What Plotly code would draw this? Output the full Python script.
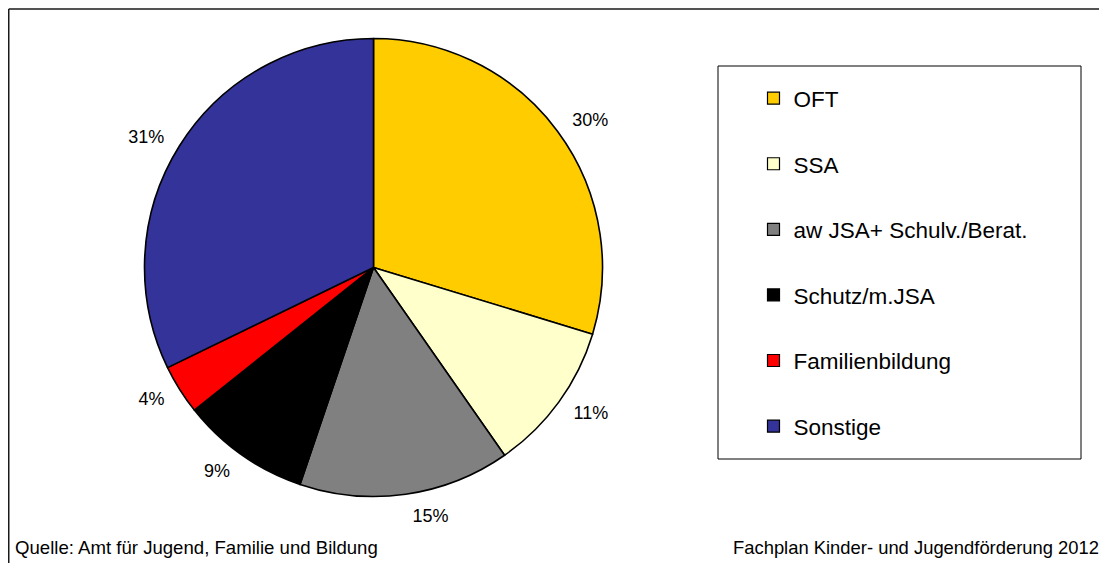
import plotly.graph_objects as go

# ---- data ----
categories = ["OFT", "SSA", "aw JSA+ Schulv./Berat.", "Schutz/m.JSA", "Familienbildung", "Sonstige"]
shares = [29.7, 10.6, 14.9, 9.1, 3.5, 32.2]
pct_labels = ["30%", "11%", "15%", "9%", "4%", "31%"]
colors = ["#FFCC00", "#FFFFCC", "#808080", "#000000", "#FF0000", "#333399"]
source_text = "Quelle: Amt für Jugend, Familie und Bildung"
doc_text = "Fachplan Kinder- und Jugendförderung 2012"

# page offset (default body margin of the html page)
OFF = 8
W, H = 1107 - OFF, 563 - OFF
FONT = "Liberation Sans, Arial, Helvetica, sans-serif"

X = lambda p: (p - OFF) / W          # page px -> paper x
Y = lambda p: 1 - (p - OFF) / H      # page px -> paper y

fig = go.Figure()

# pie geometry (page px)
cx, cy, r = 373.5, 267.5, 229
lab_r = r + 12


def dom(rad):
    return dict(x=[X(cx - rad), X(cx + rad)], y=[Y(cy + rad), Y(cy - rad)])


# main pie (slices)
fig.add_trace(go.Pie(
    labels=categories,
    values=shares,
    textinfo="none",
    marker=dict(colors=colors, line=dict(color="#000000", width=1.6)),
    sort=False,
    direction="clockwise",
    rotation=0,
    showlegend=False,
    domain=dom(r),
    hoverinfo="label+percent",
))

# same data on a slightly larger transparent pie, to carry the percentage labels a bit further out
fig.add_trace(go.Pie(
    labels=categories,
    values=shares,
    text=pct_labels,
    textinfo="text",
    texttemplate="%{text}",
    textposition="outside",
    outsidetextfont=dict(family=FONT, size=18, color="#000000"),
    marker=dict(colors=["rgba(0,0,0,0)"] * len(categories), line=dict(width=0)),
    sort=False,
    direction="clockwise",
    rotation=0,
    showlegend=False,
    domain=dom(lab_r),
    hoverinfo="skip",
))

# legend entries (one per category, styled like the slices)
for i, (name, col) in enumerate(zip(categories, colors)):
    fig.add_trace(go.Scatter(
        x=[None], y=[None], mode="markers", name=name,
        legendgroup=f"g{i}",
        marker=dict(symbol="square", size=12, color=col, line=dict(color="#000000", width=1.2)),
    ))

shapes = [
    # outer frame (top + left)
    dict(type="line", xref="paper", yref="paper", x0=X(8.75), x1=1.0, y0=Y(9), y1=Y(9),
         line=dict(color="#1a1a1a", width=1.7)),
    dict(type="line", xref="paper", yref="paper", x0=X(8.75), x1=X(8.75), y0=Y(9), y1=0,
         line=dict(color="#1a1a1a", width=1.5)),
    # legend box
    dict(type="rect", xref="paper", yref="paper", x0=X(718), x1=X(1081), y0=Y(459), y1=Y(66),
         line=dict(color="#000000", width=1)),
]

annotations = [
    dict(text=source_text, xref="paper", yref="paper", x=X(13), y=Y(547), xanchor="left",
         yanchor="middle", showarrow=False, font=dict(family=FONT, size=18.6, color="#000000")),
    dict(text=doc_text, xref="paper", yref="paper", x=X(731), y=Y(547), xanchor="left",
         yanchor="middle", showarrow=False, font=dict(family=FONT, size=18.4, color="#000000")),
]

LEG_FS = 22.5
fig.update_layout(
    width=W, height=H,
    margin=dict(l=0, r=0, t=0, b=0),
    paper_bgcolor="#FFFFFF", plot_bgcolor="#FFFFFF",
    font=dict(family=FONT, color="#000000"),
    xaxis=dict(visible=False), yaxis=dict(visible=False),
    showlegend=True,
    legend=dict(
        x=X(753.5), y=Y(77), xanchor="left", yanchor="top",
        bgcolor="rgba(0,0,0,0)", borderwidth=0,
        font=dict(family=FONT, size=LEG_FS, color="#000000"),
        tracegroupgap=65.6 - (LEG_FS * 1.3 + 3), traceorder="grouped",
    ),
    shapes=shapes,
    annotations=annotations,
)

fig.write_html("out.html")
